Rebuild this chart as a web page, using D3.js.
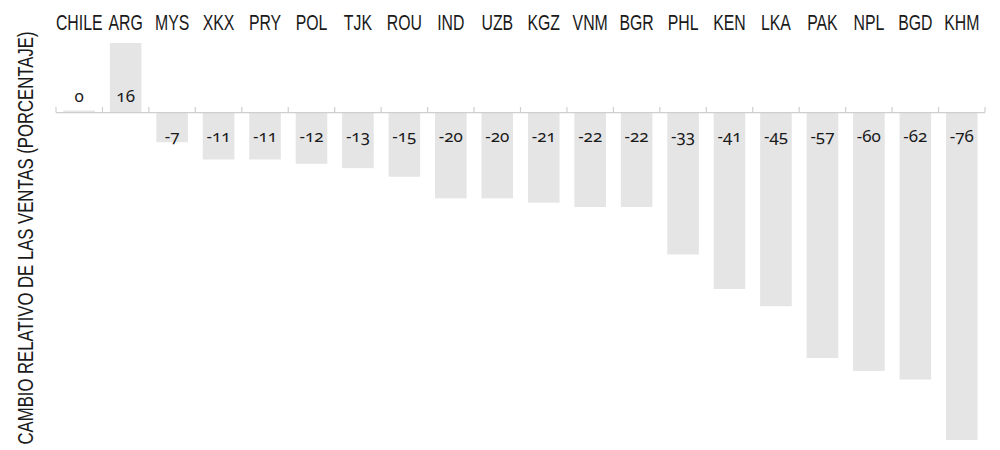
<!DOCTYPE html>
<html>
<head>
<meta charset="utf-8">
<script src="https://cdn.jsdelivr.net/npm/d3@7"></script>
<style>
  body { margin: 0; background: #fff; }
  svg { display: block; }
  .cat { font-family: "Liberation Sans", Arial, sans-serif; font-size: 22px; fill: #1a1a1a; }
  .val { font-family: "Noto Sans", "Open Sans", sans-serif; font-size: 17px; fill: #1a1a1a; font-variant-numeric: oldstyle-nums; }
  .ytitle { font-family: "Liberation Sans", Arial, sans-serif; font-size: 22px; fill: #1a1a1a; }
</style>
</head>
<body>
<svg width="1000" height="450"></svg>
<script>
// countries, sorted as in the picture
var countries = ["CHILE", "ARG", "MYS", "XKX", "PRY", "POL", "TJK", "ROU", "IND", "UZB",
                 "KGZ", "VNM", "BGR", "PHL", "KEN", "LKA", "PAK", "NPL", "BGD", "KHM"];
// relative change in sales (percent)
var values = [0, 16, -7, -11, -11, -12, -13, -15, -20, -20,
              -21, -22, -22, -33, -41, -45, -57, -60, -62, -76];
var yTitle = "CAMBIO RELATIVO DE LAS VENTAS (PORCENTAJE)";

var data = countries.map(function(c, i) {
  return {name: c, value: values[i]};
});

// the original uses a condensed face, so squeeze a regular one
var squeezeCat = 0.72;
var squeezeTitle = 0.76;

var svg = d3.select("svg");

var x = d3.scaleBand()
  .domain(countries)
  .range([56, 985])
  .paddingInner(0.32)
  .paddingOuter(0.16);

var y = d3.scaleLinear()
  .domain([-76, 16])
  .range([440, 43]);

var y0 = y(0);

// bars
svg.selectAll(".bar")
  .data(data)
  .enter().append("rect")
  .attr("class", "bar")
  .attr("x", function(d) { return x(d.name); })
  .attr("width", x.bandwidth())
  .attr("y", function(d) { return d.value >= 0 ? Math.min(y(d.value), y0 - 1.5) : y0; })
  .attr("height", function(d) { return Math.max(1.5, Math.abs(y(d.value) - y0)); })
  .attr("fill", "#e5e5e5");

// baseline with ticks at band edges
var edges = countries.map(function(c) { return x(c) - x.step() * x.paddingInner() / 2; });
edges.push(edges[edges.length - 1] + x.step());

svg.append("line")
  .attr("x1", edges[0]).attr("x2", edges[edges.length - 1])
  .attr("y1", y0 + 0.5).attr("y2", y0 + 0.5)
  .attr("stroke", "#cfcfcf").attr("stroke-width", 1.2);

svg.selectAll(".tick")
  .data(edges)
  .enter().append("line")
  .attr("class", "tick")
  .attr("x1", function(d) { return d; }).attr("x2", function(d) { return d; })
  .attr("y1", y0 - 5).attr("y2", y0 + 0.5)
  .attr("stroke", "#cfcfcf").attr("stroke-width", 1.2);

// country labels on top
svg.selectAll(".cat")
  .data(data)
  .enter().append("text")
  .attr("class", "cat")
  .attr("transform", function(d) {
    return "translate(" + (x(d.name) + x.bandwidth() / 2) + ",30) scale(" + squeezeCat + ",1)";
  })
  .attr("text-anchor", "middle")
  .text(function(d) { return d.name; });

// value labels
svg.selectAll(".val")
  .data(data)
  .enter().append("text")
  .attr("class", "val")
  .attr("x", function(d) { return x(d.name) + x.bandwidth() / 2; })
  .attr("y", function(d) { return d.value >= 0 ? y0 - 10 : y0 + 30; })
  .attr("text-anchor", "middle")
  .text(function(d) { return d.value; });

// y axis title
svg.append("text")
  .attr("class", "ytitle")
  .attr("transform", "translate(33,238) rotate(-90) scale(" + squeezeTitle + ",1)")
  .attr("text-anchor", "middle")
  .text(yTitle);
</script>
</body>
</html>
